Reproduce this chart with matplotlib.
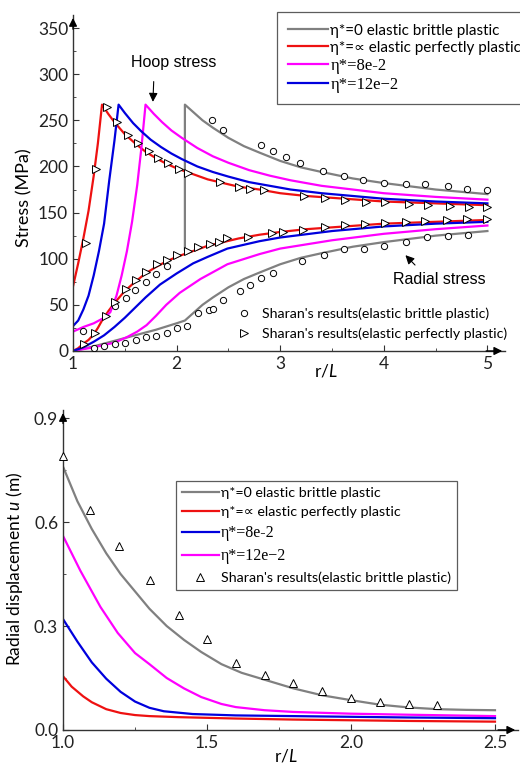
import matplotlib.pyplot as plt
from matplotlib.ticker import AutoMinorLocator, MultipleLocator

plt.rcParams['font.family'] = ['Lato', 'DejaVu Sans']
plt.rcParams['mathtext.fontset'] = 'custom'
plt.rcParams['mathtext.it'] = 'Lato:italic'

GRAY = '#808080'
RED = '#ee1111'
MAGENTA = '#ff00ff'
BLUE = '#0000dd'

# ---------------- top panel: stresses ----------------
# eta*=inf (elastic perfectly plastic)
red_hoop_x = [1.0, 1.05, 1.1, 1.15, 1.2, 1.24, 1.28, 1.34, 1.4, 1.5, 1.6, 1.7, 1.8, 1.9, 2.0,
              2.15, 2.3, 2.45, 2.6, 2.8, 3.0, 3.25, 3.5, 3.75, 4.0, 4.5, 5.0]
red_hoop_y = [70, 95, 122, 152, 190, 225, 267, 257, 248, 235, 225, 216, 209, 203, 198,
              192, 186, 182, 178, 175, 171, 168, 166, 164, 162, 160, 158]
red_rad_x = [1.0, 1.05, 1.1, 1.15, 1.2, 1.24, 1.28, 1.34, 1.4, 1.5, 1.6, 1.7, 1.8, 1.9, 2.0,
             2.15, 2.3, 2.45, 2.6, 2.8, 3.0, 3.25, 3.5, 3.75, 4.0, 4.5, 5.0]
red_rad_y = [0, 3, 8, 12, 18, 25, 33, 43, 52, 65, 75, 84, 91, 97, 102,
             108, 114, 118, 122, 126, 129, 132, 134, 136, 138, 140, 142]

# eta*=12e-2
blue_hoop_x = [1.0, 1.05, 1.1, 1.15, 1.2, 1.25, 1.3, 1.35, 1.4, 1.44, 1.5, 1.58, 1.66, 1.75,
               1.85, 1.95, 2.05, 2.2, 2.35, 2.5, 2.7, 2.9, 3.1, 3.4, 3.7, 4.0, 4.5, 5.0]
blue_hoop_y = [27, 33, 45, 60, 82, 108, 138, 185, 228, 267, 258, 247, 238, 229,
               221, 214, 208, 200, 194, 189, 183, 179, 175, 171, 168, 165, 162, 160]
blue_rad_x = [1.0, 1.1, 1.2, 1.3, 1.4, 1.5, 1.6, 1.7, 1.84, 2.0, 2.16, 2.3, 2.49, 2.8, 3.0,
              3.5, 4.0, 4.5, 5.0]
blue_rad_y = [0, 4, 10, 17, 26, 36, 47, 58, 72, 84, 95, 102, 111, 119, 123,
              130, 135, 138, 140]

# eta*=8e-2
mag_hoop_x = [1.0, 1.1, 1.2, 1.3, 1.36, 1.42, 1.47, 1.52, 1.57, 1.62, 1.66, 1.7, 1.78, 1.86,
              1.95, 2.05, 2.2, 2.35, 2.5, 2.7, 2.9, 3.1, 3.4, 3.7, 4.0, 4.5, 5.0]
mag_hoop_y = [21, 26, 30, 36, 42, 60, 82, 108, 140, 180, 220, 267, 257, 248,
              239, 231, 220, 211, 204, 196, 190, 185, 179, 175, 171, 167, 164]
mag_rad_x = [1.0, 1.2, 1.4, 1.52, 1.62, 1.71, 1.8, 1.9, 2.03, 2.23, 2.49, 2.8, 3.0, 3.5,
             4.0, 4.5, 5.0]
mag_rad_y = [0, 4, 9, 15, 21, 28, 38, 50, 63, 78, 94, 105, 111, 120,
             127, 132, 136]

# eta*=0 (elastic brittle plastic)
gray_hoop_x = [2.08, 2.08, 2.15, 2.25, 2.35, 2.5, 2.65, 2.8, 3.0, 3.2, 3.4, 3.7, 4.0, 4.5, 5.0]
gray_hoop_y = [110, 267, 260, 250, 242, 231, 222, 215, 206, 199, 194, 187, 182, 175, 170]
gray_rad_x = [1.0, 1.2, 1.4, 1.6, 1.8, 2.0, 2.08, 2.15, 2.25, 2.35, 2.5, 2.65, 2.8, 3.0,
              3.2, 3.4, 3.7, 4.0, 4.5, 5.0]
gray_rad_y = [0, 5, 11, 17, 23, 30, 33, 40, 50, 58, 69, 78, 85, 94,
              101, 106, 113, 118, 125, 130]

# Sharan's results
ebp_x = [2.34, 2.45, 2.81, 2.93, 3.06, 3.19, 3.41, 3.62, 3.80, 4.00, 4.21, 4.40, 4.62, 4.80, 5.00,
         1.10, 1.20, 1.30, 1.41, 1.50, 1.61, 1.70, 1.80, 1.905, 2.00, 2.10, 2.21, 2.31, 2.35,
         2.45, 2.61, 2.71, 2.81, 2.93, 3.21, 3.42, 3.62, 3.81, 4.00, 4.21, 4.42, 4.62, 4.81,
         1.41, 1.51, 1.60, 1.70, 1.80, 1.905]
ebp_y = [250, 240, 223, 216.5, 210, 203.5, 195, 190, 185.5, 182.5, 181, 181.5, 179, 175.7, 174.6,
         22, 3, 5, 7.6, 9, 12, 14.8, 16.6, 20, 24.5, 27, 41, 44.5, 46,
         55, 65, 71.6, 79, 84, 97.6, 104, 111, 111, 114, 118, 123, 125, 126,
         49, 57, 66, 75, 83, 92]
epp_x = [1.13, 1.22, 1.325, 1.42, 1.53, 1.63, 1.73, 1.82, 1.92, 2.02, 2.11, 2.42, 2.60, 2.71,
         2.84, 3.23, 3.43, 3.63, 3.83, 4.01, 4.24, 4.43, 4.64, 4.82, 5.0,
         1.106, 1.21, 1.32, 1.41, 1.51, 1.61, 1.705, 1.81, 1.905, 2.0, 2.11, 2.21, 2.32, 2.41,
         2.485, 2.69, 2.92, 3.03, 3.22, 3.43, 3.63, 3.82, 4.01, 4.21, 4.40, 4.61, 4.80, 5.0]
epp_y = [117, 197, 264, 248, 234, 225, 217, 209, 203.5, 197, 192.7, 183.6, 178, 175.5,
         174, 168, 165.6, 164, 162, 161, 159.4, 158.3, 157.6, 156.5, 156.5,
         8, 20, 38, 53.5, 67, 77, 86, 94, 98.7, 104, 108.8, 112.4, 115.7, 118.6,
         122, 123, 127.6, 128.7, 131, 134, 136.7, 137.7, 139, 140, 141, 142, 142.7, 142.7]

# ---------------- bottom panel: displacement ----------------
u_gray_x = [1.0, 1.05, 1.1, 1.15, 1.2, 1.25, 1.3, 1.36, 1.42, 1.48, 1.55, 1.62, 1.7, 1.8, 1.9,
            2.0, 2.1, 2.2, 2.3, 2.4, 2.5]
u_gray_y = [0.76, 0.66, 0.58, 0.51, 0.45, 0.40, 0.35, 0.30, 0.26, 0.225, 0.19, 0.165, 0.145,
            0.12, 0.10, 0.086, 0.073, 0.065, 0.06, 0.058, 0.057]
u_red_x = [1.0, 1.03, 1.07, 1.1, 1.15, 1.2, 1.25, 1.3, 1.4, 1.6, 1.8, 2.0, 2.2, 2.5]
u_red_y = [0.155, 0.125, 0.097, 0.08, 0.06, 0.049, 0.043, 0.04, 0.037, 0.033, 0.03, 0.028,
           0.026, 0.024]
u_blue_x = [1.0, 1.05, 1.1, 1.15, 1.2, 1.25, 1.3, 1.35, 1.45, 1.6, 1.8, 2.0, 2.2, 2.5]
u_blue_y = [0.32, 0.255, 0.195, 0.148, 0.11, 0.082, 0.064, 0.054, 0.046, 0.042, 0.04, 0.038,
            0.036, 0.034]
u_mag_x = [1.0, 1.06, 1.13, 1.19, 1.25, 1.3, 1.36, 1.42, 1.48, 1.55, 1.6, 1.7, 1.8, 2.0, 2.2, 2.5]
u_mag_y = [0.56, 0.46, 0.355, 0.28, 0.222, 0.19, 0.15, 0.12, 0.095, 0.075, 0.066, 0.057, 0.052,
           0.047, 0.044, 0.04]
u_sharan_x = [1.0, 1.094, 1.194, 1.302, 1.403, 1.50, 1.60, 1.70, 1.80, 1.90, 2.0, 2.10, 2.20, 2.30]
u_sharan_y = [0.79, 0.635, 0.532, 0.433, 0.332, 0.262, 0.192, 0.159, 0.136, 0.112, 0.091, 0.080,
              0.075, 0.072]


def style(ax):
    for s in ['top', 'right']:
        ax.spines[s].set_visible(False)
    for s in ['left', 'bottom']:
        ax.spines[s].set_color('#333333')
        ax.spines[s].set_linewidth(1.0)
    ax.xaxis.set_minor_locator(AutoMinorLocator(2))
    ax.yaxis.set_minor_locator(AutoMinorLocator(2))
    ax.tick_params(which='both', direction='in', labelsize=12.5, colors='#333333')
    ax.tick_params(which='major', length=4)
    ax.tick_params(which='minor', length=2.5)
    ax.tick_params(labelcolor='#222222')
    arr = dict(arrowstyle='-|>', color='black', lw=1.0, mutation_scale=12)
    ax.annotate('', xy=(0, 1.0), xytext=(0, 0.95), xycoords='axes fraction', arrowprops=arr)
    ax.annotate('', xy=(1.0, 0), xytext=(0.95, 0), xycoords='axes fraction', arrowprops=arr)


fig = plt.figure(figsize=(5.2, 7.65), dpi=100)
ax1 = fig.add_axes([0.1404, 0.5412, 0.8308, 0.439])
ax2 = fig.add_axes([0.1212, 0.0458, 0.875, 0.418])

# top
lw = 1.6
l_gray, = ax1.plot(gray_hoop_x, gray_hoop_y, color=GRAY, lw=lw)
ax1.plot(gray_rad_x, gray_rad_y, color=GRAY, lw=lw)
l_red, = ax1.plot(red_hoop_x, red_hoop_y, color=RED, lw=lw)
ax1.plot(red_rad_x, red_rad_y, color=RED, lw=lw)
l_mag, = ax1.plot(mag_hoop_x, mag_hoop_y, color=MAGENTA, lw=lw)
ax1.plot(mag_rad_x, mag_rad_y, color=MAGENTA, lw=lw)
l_blue, = ax1.plot(blue_hoop_x, blue_hoop_y, color=BLUE, lw=lw)
ax1.plot(blue_rad_x, blue_rad_y, color=BLUE, lw=lw)
m_ebp, = ax1.plot(ebp_x, ebp_y, ls='none', marker='o', ms=4.5, mfc='white', mec='black',
                  mew=0.7, zorder=5)
m_epp, = ax1.plot(epp_x, epp_y, ls='none', marker='>', ms=5.5, mfc='white', mec='black',
                  mew=0.7, zorder=5)

ax1.set_xlim(1, 5.17)
ax1.set_ylim(0, 364)
ax1.set_xticks([1, 2, 3, 4, 5])
ax1.yaxis.set_major_locator(MultipleLocator(50))
style(ax1)
ax1.set_xlabel('r/$\\mathit{L}$', fontsize=12.5)
ax1.set_ylabel('Stress (MPa)', fontsize=13)
ax1.xaxis.set_label_coords(0.585, -0.033)
ax1.yaxis.set_label_coords(-0.095, 0.455)

ax1.text(1.97, 313, 'Hoop stress', fontsize=11.5, family='Liberation Sans', ha='center',
         va='center')
ax1.annotate('', xy=(1.77, 267), xytext=(1.78, 295),
             arrowprops=dict(arrowstyle='-|>', color='black', lw=0.8, mutation_scale=13))
ax1.text(4.54, 77, 'Radial stress', fontsize=11.5, family='Liberation Sans', ha='center',
         va='center')
ax1.annotate('', xy=(4.19, 106), xytext=(4.32, 91),
             arrowprops=dict(arrowstyle='-|>', color='black', lw=0.8, mutation_scale=13))

leg1 = ax1.legend([l_gray, l_red, l_mag, l_blue],
                  ['η*=0 elastic brittle plastic', 'η*=∝ elastic perfectly plastic',
                   'η*=8e-2', 'η*=12e−2'],
                  loc='upper left', bbox_to_anchor=(0.472, 1.009), fontsize=11,
                  frameon=True, fancybox=False, edgecolor='#333333', handlelength=2.6,
                  handletextpad=0.15, labelspacing=0.2, borderaxespad=0, borderpad=0.75)
leg1.get_frame().set_linewidth(0.9)
for t in leg1.get_texts()[2:]:
    t.set_family('Liberation Serif')
    t.set_fontsize(12)
ax1.add_artist(leg1)
ax1.legend([m_ebp, m_epp],
           ["Sharan's results(elastic brittle plastic)",
            "Sharan's results(elastic perfectly plastic)"],
           loc='upper left', bbox_to_anchor=(0.375, 0.13), fontsize=10.2, frameon=False,
           handlelength=1.2, handletextpad=0.7, labelspacing=0.55, borderaxespad=0,
           borderpad=0)

# bottom
g2, = ax2.plot(u_gray_x, u_gray_y, color=GRAY, lw=lw)
r2, = ax2.plot(u_red_x, u_red_y, color=RED, lw=lw)
m2, = ax2.plot(u_mag_x, u_mag_y, color=MAGENTA, lw=lw)
b2, = ax2.plot(u_blue_x, u_blue_y, color=BLUE, lw=lw)
s2, = ax2.plot(u_sharan_x, u_sharan_y, ls='none', marker='^', ms=5.5, mfc='white', mec='black',
               mew=0.7, zorder=5, clip_on=False)
ax2.set_xlim(1.0, 2.58)
ax2.set_ylim(0, 0.923)
ax2.set_xticks([1.0, 1.5, 2.0, 2.5])
ax2.set_yticks([0.0, 0.3, 0.6, 0.9])
style(ax2)
ax2.set_xlabel('r/$\\mathit{L}$', fontsize=12.5)
ax2.set_ylabel('Radial displacement $\\mathit{u}$ (m)', fontsize=12.5)
ax2.xaxis.set_label_coords(0.49, -0.055)
ax2.yaxis.set_label_coords(-0.084, 0.505)

leg2 = ax2.legend([g2, r2, b2, m2, s2],
                  ['η*=0 elastic brittle plastic', 'η*=∝ elastic perfectly plastic',
                   'η*=8e-2', 'η*=12e−2', "Sharan's results(elastic brittle plastic)"],
                  loc='upper left', bbox_to_anchor=(0.248, 0.778), fontsize=10.3,
                  frameon=True, fancybox=False, edgecolor='#333333', handlelength=2.6,
                  handletextpad=0.15, labelspacing=0.5, borderaxespad=0, borderpad=0.4)
leg2.get_frame().set_linewidth(0.9)
for t in leg2.get_texts()[2:4]:
    t.set_family('Liberation Serif')
    t.set_fontsize(11.5)

fig.savefig('out.png', dpi=100)
